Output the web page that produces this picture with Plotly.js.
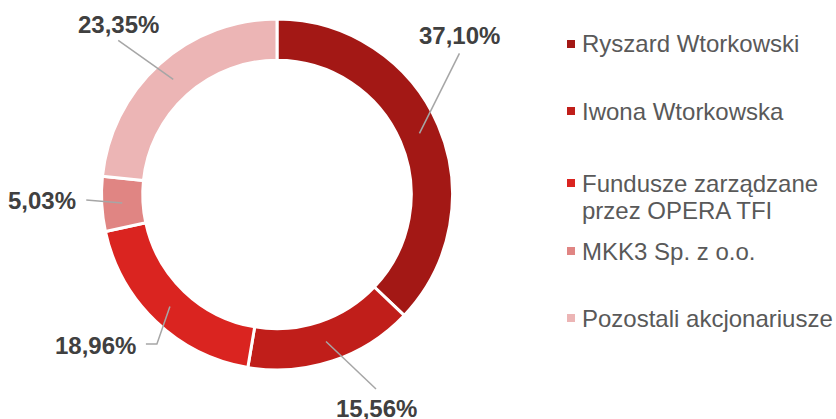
<!DOCTYPE html>
<html>
<head>
<meta charset="utf-8">
<script src="https://cdn.plot.ly/plotly-3.0.1.min.js"></script>
<style>html,body{margin:0;padding:0;background:#fff;}#chart{width:836px;height:419px;}</style>
</head>
<body>
<div id="chart"></div>
<script>
// ---- data ----
const categories = ["Ryszard Wtorkowski", "Iwona Wtorkowska", "Fundusze zarządzane\nprzez OPERA TFI", "MKK3 Sp. z o.o.", "Pozostali akcjonariusze"];
const shares = [37.10, 15.56, 18.96, 5.03, 23.35];
const shareLabels = ["37,10%", "15,56%", "18,96%", "5,03%", "23,35%"];
const colors = ["#A31815", "#C01E1A", "#DA2420", "#E08583", "#ECB5B5"];

// ---- layout helpers ----
const W = 836, H = 419;
const px = x => x / W;
const py = y => 1 - y / H;
const cx = 277, cy = 194.5, R = 175.5;
const rLine = 155;
// per-label leader configuration (offsets in pixels)
const leader = [
  {pts: [[40, -80]], txt: [0, -17.5], anchor: "center"},
  {pts: [[50, 47.5]], txt: [0, 19], anchor: "center"},
  {pts: [[-13, 37.5], [-24, 37.5]], txt: [-8, 1], anchor: "right"},
  {pts: [[-36, -3]], txt: [-8, 1], anchor: "right"},
  {pts: [[-55, -39]], txt: [0, -16], anchor: "center"}
];
const legendY = [44, 111, 183, 251, 318];

const total = shares.reduce((a, b) => a + b, 0);
const shapes = [], annotations = [];
let cum = 0;
shares.forEach((v, i) => {
  const mid = (cum + v / 2) / total * 2 * Math.PI;
  cum += v;
  const sx = cx + rLine * Math.sin(mid), sy = cy - rLine * Math.cos(mid);
  let path = `M${px(sx)},${py(sy)}`;
  let ex = sx, ey = sy;
  leader[i].pts.forEach(p => { ex = sx + p[0]; ey = sy + p[1]; path += ` L${px(ex)},${py(ey)}`; });
  shapes.push({type: "path", xref: "paper", yref: "paper", path: path, line: {color: "#A6A6A6", width: 1.5}});
  annotations.push({
    xref: "paper", yref: "paper", x: px(ex + leader[i].txt[0]), y: py(ey + leader[i].txt[1]),
    xanchor: leader[i].anchor, yanchor: "middle", showarrow: false, text: "<b>" + shareLabels[i] + "</b>",
    font: {family: "Liberation Sans, Arial, sans-serif", size: 24, color: "#404040"}
  });
});

// custom legend
categories.forEach((c, i) => {
  const y0 = legendY[i];
  shapes.push({type: "rect", xref: "paper", yref: "paper", x0: px(567), x1: px(575), y0: py(y0 - 4), y1: py(y0 + 4), fillcolor: colors[i], line: {width: 0}});
  c.split("\n").forEach((line, k) => {
    annotations.push({
      xref: "paper", yref: "paper", x: px(580), y: py(y0 + k * 27), xanchor: "left", yanchor: "middle",
      showarrow: false, text: line, font: {family: "Liberation Sans, Arial, sans-serif", size: 24, color: "#595959"}
    });
  });
});

const trace = {
  type: "pie",
  values: shares,
  labels: categories,
  hole: 0.765,
  sort: false,
  direction: "clockwise",
  rotation: 0,
  textinfo: "none",
  hoverinfo: "none",
  marker: {colors: colors, line: {color: "#FFFFFF", width: 3}},
  domain: {x: [px(cx - R), px(cx + R)], y: [py(cy + R), py(cy - R)]}
};

Plotly.newPlot("chart", [trace], {
  width: W, height: H,
  margin: {l: 0, r: 0, t: 0, b: 0},
  paper_bgcolor: "#FFFFFF",
  showlegend: false,
  shapes: shapes,
  annotations: annotations
}, {displayModeBar: false, staticPlot: true});
</script>
</body>
</html>
